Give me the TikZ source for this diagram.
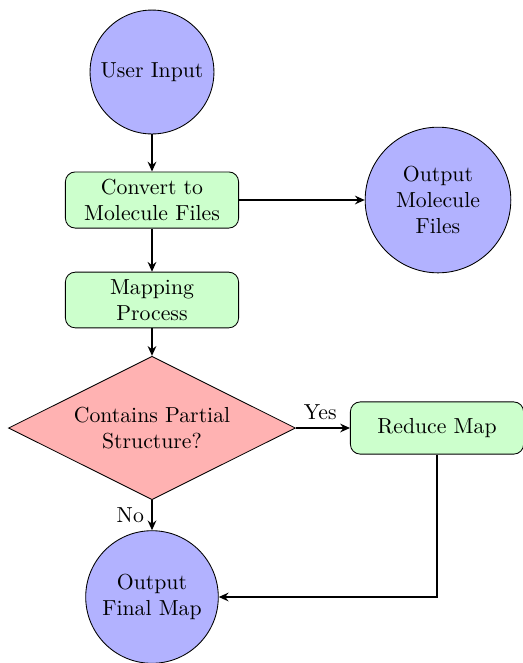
\documentclass[tikz,border=0pt]{standalone}
\usetikzlibrary{shapes.geometric,arrows.meta}
\tikzset{startstop/.style = {circle, draw, fill=blue!30, align=center, inner sep=0}}
\tikzset{process/.style = {rectangle, rounded corners=4.5pt, draw, fill=green!20, align=center, minimum width=79pt, minimum height=24pt, text width=73pt}}
\tikzset{decision/.style = {diamond, draw, fill=red!30, align=center, aspect=2, inner sep=0, minimum width=132pt, minimum height=66pt}}
\tikzset{arrow/.style = {thick, -{Stealth[length=4.5pt, width=4pt, inset=1.5pt]}}}

\begin{document}
\begin{tikzpicture}[x=0.46pt, y=-0.46pt]
      \useasboundingbox (0, 0) rectangle (523, 663);
      \node [startstop, minimum size=57pt] (input) at (152, 72) {User Input};
      \node [process] (convert) at (152, 200) {Convert to\\Molecule Files};
      \node [startstop, minimum size=67pt] (outfiles) at (438, 200) {Output\\Molecule\\Files};
      \node [process] (mapping) at (152, 300) {Mapping\\Process};
      \node [decision] (partial) at (152, 428) {Contains Partial\\Structure?};
      \node [process] (reduce) at (437, 428) {Reduce Map};
      \node [startstop, minimum size=61pt] (outmap) at (152, 597) {Output\\Final Map};

      \draw [arrow] (input) -- (convert);
      \draw [arrow] (convert) -- (outfiles);
      \draw [arrow] (convert) -- (mapping);
      \draw [arrow] (mapping) -- (partial);
      \draw [arrow] (partial) -- node [above, pos=0.45] {Yes} (reduce);
      \draw [arrow] (partial) -- node [left, pos=0.5] {No} (outmap);
      \draw [arrow] (reduce) |- (outmap);
\end{tikzpicture}
\end{document}
